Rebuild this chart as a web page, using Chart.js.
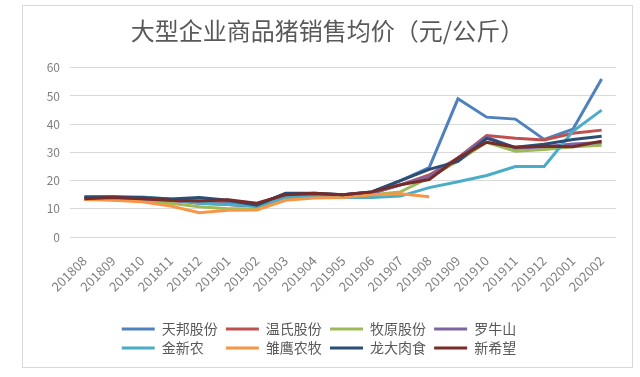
<!DOCTYPE html>
<html>
<head>
<meta charset="utf-8">
<script src="https://cdn.jsdelivr.net/npm/chart.js@4"></script>
<style>
  body { margin: 0; background: #fff; }
  #box { position: absolute; left: 22px; top: 5px; width: 609px; height: 361px; border: 1px solid #d9d9d9; }
  canvas { display: block; }
</style>
</head>
<body>
<div id="box"><canvas id="pig" width="609" height="361"></canvas></div>
<script>
// months (x axis)
const months = ['201808', '201809', '201810', '201811', '201812', '201901', '201902', '201903', '201904', '201905',
  '201906', '201907', '201908', '201909', '201910', '201911', '201912', '202001', '202002'];

// average selling price of hogs, yuan/kg
const tianbang  = [14, 14.2, 13.8, 13.2, 12.8, 12.5, 11.5, 15.3, 15.3, 15, 16, 20, 24.6, 49, 42.5, 41.8, 34.6, 38.2, 56];
const wenshi    = [13.6, 13.6, 13.3, 12.8, 12.5, 11.5, 11, 14.8, 15, 15, 15.5, 18.5, 22, 28, 36, 35, 34.4, 36.8, 37.9];
const muyuan    = [13.5, 13.2, 13, 12, 10.7, 10, 10, 14.3, 14.5, 14.5, 15, 16, 21, 27, 33.6, 30.4, 31, 32, 32.5];
const luoniushan = [13.8, 13.8, 13.5, 13, 12, 11.5, 11, 15, 15, 15, 15.5, 18.5, 21.5, 28, 35.5, 31.5, 32, 33, 33.5];
const jinxinnong = [14, 14, 14.2, 13.5, 12, 11.5, 11, 14, 14, 14, 14, 14.5, 17.5, 19.6, 21.8, 25, 25, 37.5, 45];
const chuying   = [13.3, 13, 12.5, 11, 8.6, 9.5, 9.6, 13, 13.8, 14, 15, 15.3, 14.3, null, null, null, null, null, null];
const longda    = [14.3, 14.3, 14, 13.5, 14, 13, 11.3, 15.5, 15.5, 15, 16, 20, 24, 26.8, 35, 31.8, 32.9, 34.6, 35.7];
const xinxiwang = [13.6, 14, 13.6, 13, 12.8, 13.2, 12, 15, 15.5, 15, 16, 18.5, 20.4, 28, 33.6, 31.8, 32.2, 32, 34];

const names = ['天邦股份', '温氏股份', '牧原股份', '罗牛山', '金新农', '雏鹰农牧', '龙大肉食', '新希望'];
const series = [tianbang, wenshi, muyuan, luoniushan, jinxinnong, chuying, longda, xinxiwang];
const colors = ['#4F81BD', '#C0504D', '#9BBB59', '#8064A2', '#4BACC6', '#F79646', '#2C4D75', '#772C2A'];

const font = '"Noto Sans CJK SC", "Noto Sans", sans-serif';

// draw later series first, like the picture (blue on top)
const datasets = series.map((s, i) => ({
  label: names[i],
  data: s,
  borderColor: colors[i],
  backgroundColor: colors[i],
  borderWidth: 3,
  pointRadius: 0,
  tension: 0,
  order: series.length - i
}));

// legend rows are laid out in a narrower width so that 4 items go in each row
const narrowLegend = {
  id: 'narrowLegend',
  beforeLayout(chart) {
    const lg = chart.legend;
    if (lg && !lg._narrow) {
      const orig = lg.update.bind(lg);
      lg.update = (mw, mh, margins) => orig(Math.min(mw, 450), mh, margins);
      lg._narrow = true;
    }
  }
};

new Chart(document.getElementById('pig'), {
  type: 'line',
  data: { labels: months, datasets: datasets },
  plugins: [narrowLegend],
  options: {
    responsive: false,
    animation: false,
    layout: { padding: { left: 16, right: 16, top: 0, bottom: 2 } },
    plugins: {
      title: {
        display: true,
        text: '大型企业商品猪销售均价（元/公斤）',
        color: '#595959',
        font: { family: font, size: 24, weight: 'normal' },
        padding: { top: 10, bottom: 23 }
      },
      legend: {
        position: 'bottom',
        labels: {
          boxWidth: 33,
          boxHeight: 3,
          padding: 5,
          color: '#595959',
          font: { family: font, size: 14 },
          sort: (a, b) => a.datasetIndex - b.datasetIndex,
          generateLabels: (chart) => {
            const items = Chart.defaults.plugins.legend.labels.generateLabels(chart);
            items.forEach(it => {
              it.lineWidth = 0;
              it.fillStyle = colors[it.datasetIndex];
              // keep columns lined up
              if (it.text.length < 4) it.text = it.text + '\u3000';
              it.text = it.text + ' ';
            });
            return items;
          }
        }
      },
      tooltip: { enabled: false }
    },
    scales: {
      x: {
        offset: true,
        grid: { display: false },
        border: { display: false },
        ticks: {
          color: '#7f7f7f',
          font: { family: font, size: 13 },
          minRotation: 45,
          maxRotation: 45,
          padding: 8,
          autoSkip: false
        },
        afterFit: (s) => { s.height = 80; }
      },
      y: {
        min: 0,
        max: 60,
        grid: { color: '#d9d9d9', drawTicks: false },
        border: { display: false },
        ticks: {
          stepSize: 10,
          padding: 10,
          color: '#7f7f7f',
          font: { family: font, size: 12 }
        },
        afterFit: (s) => { s.width = 31; }
      }
    }
  }
});
</script>
</body>
</html>
